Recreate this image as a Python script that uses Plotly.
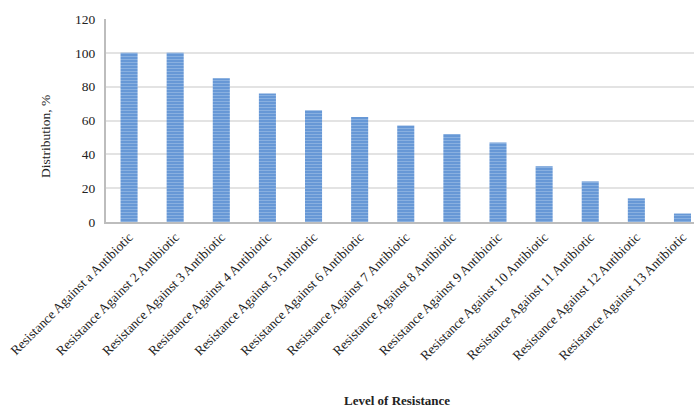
import plotly.graph_objects as go

categories = [
    "Resistance Against a Antibiotic",
    "Resistance Against 2 Antibiotic",
    "Resistance Against 3 Antibiotic",
    "Resistance Against 4 Antibiotic",
    "Resistance Against 5 Antibiotic",
    "Resistance Against 6 Antibiotic",
    "Resistance Against 7 Antibiotic",
    "Resistance Against 8 Antibiotic",
    "Resistance Against 9 Antibiotic",
    "Resistance Against 10 Antibiotic",
    "Resistance Against 11 Antibiotic",
    "Resistance Against 12 Antibiotic",
    "Resistance Against 13 Antibiotic",
]
values = [100, 100, 85, 76, 66, 62, 57, 52, 47, 33, 24, 14, 5]
y_ticks = [0, 20, 40, 60, 80, 100, 120]

FONT = "Liberation Serif, DejaVu Serif, serif"
W, H = 694, 410
ML, MT, MB = 106, 19, 188

fig = go.Figure(go.Bar(
    x=list(range(len(categories))),
    y=values,
    width=0.37,
    marker=dict(
        color="#5f93d3",
        line=dict(width=0),
        pattern=dict(shape="-", size=3, solidity=0.45,
                     fgcolor="#b3cdee", bgcolor="#5f93d3"),
    ),
    showlegend=False,
))

fig.update_layout(
    width=W, height=H,
    margin=dict(l=ML, r=0, t=MT, b=MB),
    paper_bgcolor="white", plot_bgcolor="white",
    font=dict(family=FONT, size=12, color="#222"),
)
fig.update_xaxes(
    tickmode="array",
    tickvals=list(range(len(categories))),
    ticktext=categories,
    tickangle=-45,
    range=[-0.5, 12.25],
    showline=True, linecolor="#bdbdbd", linewidth=2,
    showgrid=False, ticks="",
    tickfont=dict(family=FONT, size=13.3, color="#222"),
    automargin=False,
)
fig.update_yaxes(
    range=[0, 120],
    tickmode="array", tickvals=y_ticks,
    showline=True, linecolor="#bdbdbd", linewidth=2,
    showgrid=True, gridcolor="#e3e3e3", gridwidth=1.5,
    ticks="outside", ticklen=6, tickcolor="rgba(0,0,0,0)",
    tickfont=dict(family=FONT, size=13.5, color="#222"),
    zeroline=False,
    automargin=False,
)
fig.add_annotation(
    text="Distribution, %", textangle=-90,
    xref="paper", yref="paper",
    x=(45 - ML) / (W - ML), y=1 - (137 - MT) / (H - MT - MB),
    showarrow=False, xanchor="center", yanchor="middle",
    font=dict(family=FONT, size=13.5, color="#222"),
)
fig.add_annotation(
    text="<b>Level of Resistance</b>",
    xref="paper", yref="paper",
    x=(397 - ML) / (W - ML), y=1 - (400 - MT) / (H - MT - MB),
    showarrow=False, xanchor="center", yanchor="middle",
    font=dict(family=FONT, size=13, color="#222"),
)

fig.write_html("out.html")
